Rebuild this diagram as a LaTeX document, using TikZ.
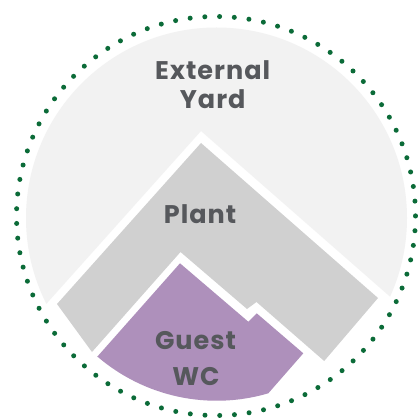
\documentclass[tikz,border=0pt]{standalone}
\usepackage{fontspec}
\setmainfont{Poppins}[LetterSpace=4]
\definecolor{yardc}{HTML}{F2F2F2}
\definecolor{plantc}{HTML}{D0D0D0}
\definecolor{wcc}{HTML}{AE90BB}
\definecolor{dotc}{HTML}{0B6B38}
\definecolor{txtc}{HTML}{56585C}
\begin{document}
\begin{tikzpicture}[x=1pt,y=-1pt,
  lbl/.style={anchor=base,inner sep=0pt,text=txtc,font=\fontsize{25.5}{30}\selectfont\bfseries}]
\useasboundingbox (0,0) rectangle (417,419);
\fill[white] (0,0) rectangle (417,419);
% External yard
\begin{scope}
  \clip (216.5,218) circle[radius=190.5];
  \fill[yardc] (201,131) -- (1,354.5) -- (-50,-50) -- (480,-50) -- (426.6,328.7) -- cycle;
\end{scope}
% Plant
\fill[plantc] (201,143) -- (57,304) -- (92,352) -- (180.5,252) -- (247,309) -- (256.5,302) -- (324.2,361) -- (378,298) -- cycle;
% Guest WC
\fill[wcc] (97,357) -- (180,263.3) -- (248.3,321.7) -- (256.7,313.3) -- (303.3,353.3) -- (268.3,393.3)
  arc[start angle=73.6, end angle=130.7, radius=183] -- cycle;
% dotted boundary
\draw[dotc, line width=5pt, line cap=round, dash pattern=on 0pt off 14.747pt] (216,216) circle[radius=199.5];
% labels
\node[lbl] (ext1) at (212.7,79.3) {External};
\node[lbl] (ext2) at (212.7,108.3) {Yard};
\node[lbl] (plant) at (200,223.3) {Plant};
\node[lbl] (guest1) at (195.5,349.3) {Guest};
\node[lbl] (guest2) at (196,385) {WC};
\end{tikzpicture}
\end{document}
